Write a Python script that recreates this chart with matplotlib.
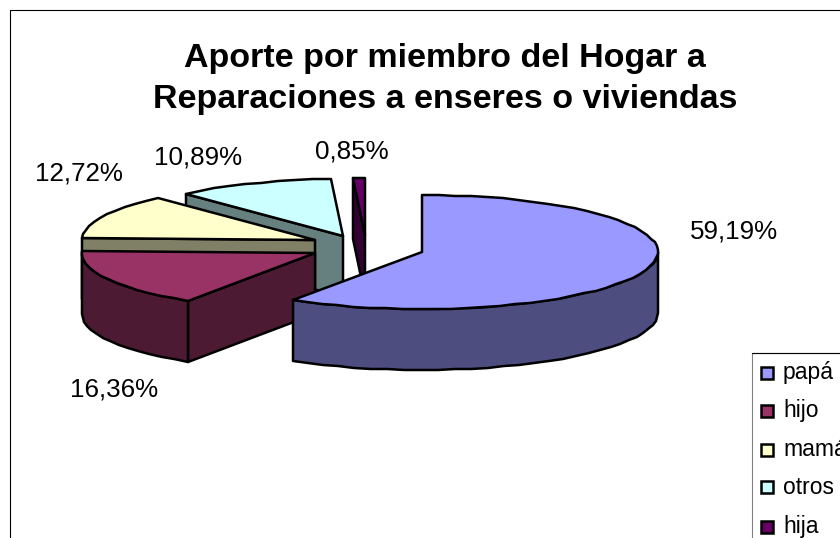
import numpy as np
import matplotlib

matplotlib.use("Agg")

import matplotlib.pyplot as plt
from matplotlib.patches import Polygon, Rectangle

plt.rcParams["font.family"] = ["Liberation Sans", "DejaVu Sans"]

miembros = ["papá", "hijo", "mamá", "otros", "hija"]
valores = [59.19, 16.36, 12.72, 10.89, 0.85]
titulo = "Aporte por miembro del Hogar a\nReparaciones a enseres o viviendas"

colores = ["#9999FF", "#993366", "#FFFFCC", "#CCFFFF", "#660066"]
lados = ["#4D4D80", "#4D1A33", "#808066", "#668080", "#330033"]

# apex of each exploded slice, in picture pixels
apex = [(422, 252), (315, 253), (315, 240), (343, 236), (365, 235)]
radio_x = [236, 233, 233, 233, 233]
radio_y = 57
prof = 61
label_pos = [(734, 232), (114, 389), (79, 174), (198, 158), (352, 152)]
orden = [3, 4, 2, 1, 0]

fig = plt.figure(figsize=(8.4, 5.38), dpi=100)
ax = fig.add_axes([0, 0, 1, 1])
ax.set_xlim(0, 840)
ax.set_ylim(538, 0)
ax.axis("off")

ax.plot([10, 10, 841], [539, 10, 10], color="black", lw=0.8, solid_joinstyle="miter")


def rim(i, a0, a1):
    # angles clockwise from the top, rounded to pixels like the old renderer
    n = max(2, int(abs(a1 - a0) / 4) + 1)
    t = np.radians(np.linspace(a0, a1, n))
    cx, cy = apex[i]
    x = np.round(cx + radio_x[i] * np.sin(t))
    y = np.round(cy - radio_y * np.cos(t))
    return np.column_stack([x, y])


def poly(pts, color):
    ax.add_patch(Polygon(pts, closed=True, facecolor=color, edgecolor="black",
                         lw=1.8, joinstyle="round"))


angulos = np.concatenate([[0], np.cumsum(valores) / sum(valores) * 360])

for i in orden:
    a0, a1 = angulos[i], angulos[i + 1]
    c = np.array(apex[i], dtype=float)
    borde = rim(i, a0, a1)
    abajo = np.array([0, prof])

    # cut face on the starting side
    p0 = borde[0]
    poly([c, p0, p0 + abajo, c + abajo], lados[i])

    # outer wall, only the part turned to the viewer
    w0, w1 = max(a0, 90), min(a1, 270)
    if w1 > w0:
        pared = rim(i, w0, w1)
        poly(np.vstack([pared, (pared + abajo)[::-1]]), lados[i])

    poly(np.vstack([c, borde]), colores[i])

for i in range(len(valores)):
    ax.text(label_pos[i][0], label_pos[i][1], f"{valores[i]:.2f}%".replace(".", ","),
            ha="center", va="center", fontsize=18.7, color="black")

ax.text(445, 79, titulo, ha="center", va="center", fontsize=24.5,
        fontweight="bold", linespacing=1.42, color="black")

# legend box runs off the picture
ax.add_patch(Rectangle((752, 353), 120, 220, facecolor="white", edgecolor="#808080", lw=0.8))
ax.plot([752, 841], [353, 353], color="black", lw=0.8)
filas = [373, 411, 450, 487, 527]
for i in range(len(miembros)):
    ax.add_patch(Rectangle((761, filas[i] - 6), 12, 12, facecolor=colores[i],
                           edgecolor="black", lw=1.8))
    ax.text(783, filas[i], miembros[i], ha="left", va="center", fontsize=16.5, color="black")

fig.savefig("out.png", dpi=100)
